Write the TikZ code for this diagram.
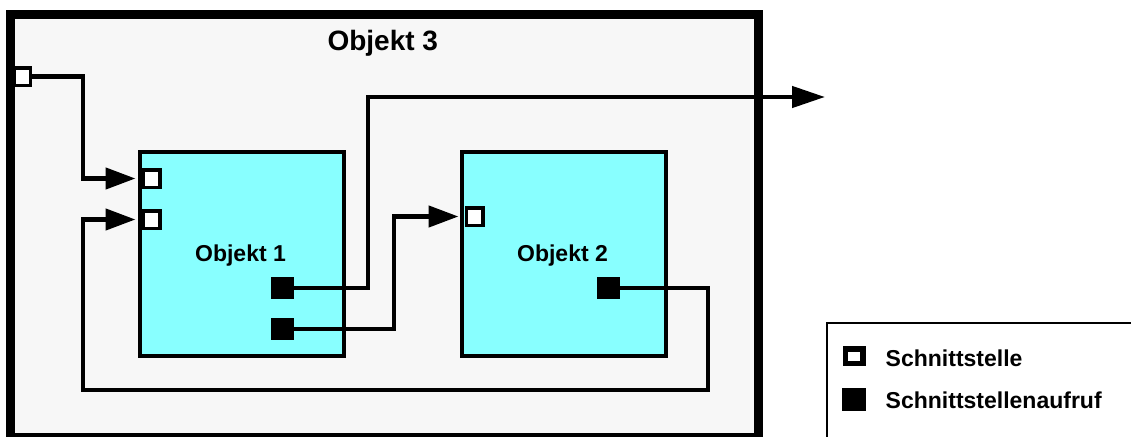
\documentclass[tikz,border=0pt]{standalone}
\usepackage{fontspec}
\setmainfont{Liberation Sans}
\usetikzlibrary{arrows.meta}
\definecolor{objfill}{RGB}{136,255,255}
\definecolor{bgfill}{RGB}{247,247,247}
\begin{document}
\begin{tikzpicture}[x=1pt,y=-1pt,
  container/.style={draw,line width=9pt,fill=bgfill,inner sep=0},
  obj/.style={draw,line width=4.5pt,fill=objfill,minimum width=204pt,minimum height=204pt,inner sep=0},
  iface/.style={draw,line width=3.5pt,fill=white,minimum width=16.5pt,minimum height=17.5pt,inner sep=0},
  call/.style={fill=black,minimum width=23pt,minimum height=22pt,inner sep=0},
  conn/.style={line width=4.5pt},
  arr/.style={conn,-{Triangle[length=30pt,width=21pt]}},
  lbl/.style={font=\bfseries\fontsize{23}{27}\selectfont,inner sep=0,anchor=base},
]
\useasboundingbox (0,0) rectangle (1131,436);
% container
\node[container,minimum width=747.5pt,minimum height=422.5pt] (Obj3) at (384.25,226.25) {};
\node[lbl,font=\bfseries\fontsize{28}{32}\selectfont] (t3) at (382.8,51) {Objekt 3};
% objects
\node[obj] (Obj1) at (242,254) {};
\node[obj] (Obj2) at (564,254) {};
\node[lbl] (t1) at (240.5,261.5) {Objekt 1};
\node[lbl] (t2) at (562.5,261.5) {Objekt 2};
% ports
\node[iface] (P0) at (22,76.5) {};
\node[iface] (P1) at (151.5,178.5) {};
\node[iface] (P2) at (151.5,219.5) {};
\node[iface] (P3) at (474.5,216.5) {};
\node[call] (P4) at (282.5,288) {};
\node[call] (P5) at (282.5,329) {};
\node[call] (P6) at (608.5,288) {};
\coordinate (out) at (825,97);
% connectors
\draw[arr,shorten >=6pt] (P0.east) -- (83,76.5) |- (P1.west);
\draw[arr,shorten >=6pt] (P6.east) -- (708,288) -- (708,390) -- (83,390) |- (P2.west);
\draw[conn,-{Triangle[length=33pt,width=21pt]}] (P4.east) -| (368,97) -- (out);
\draw[arr,shorten >=6pt] (P5.east) -- (394,329) |- (P3.west);
% legend
\node[draw,line width=2pt,fill=white,anchor=north west,minimum width=330pt,minimum height=140pt,inner sep=0] (legend) at (826,322) {};
\node[iface,line width=5.5pt,minimum width=17.5pt,minimum height=14.5pt] (lg1) at (854,356) {};
\node[call,minimum width=24pt,minimum height=23pt] (lg2) at (854,399.5) {};
\node[lbl,anchor=base west] (lt1) at (885.5,366.5) {Schnittstelle};
\node[lbl,anchor=base west] (lt2) at (885.5,408.5) {Schnittstellenaufruf};
\end{tikzpicture}
\end{document}
